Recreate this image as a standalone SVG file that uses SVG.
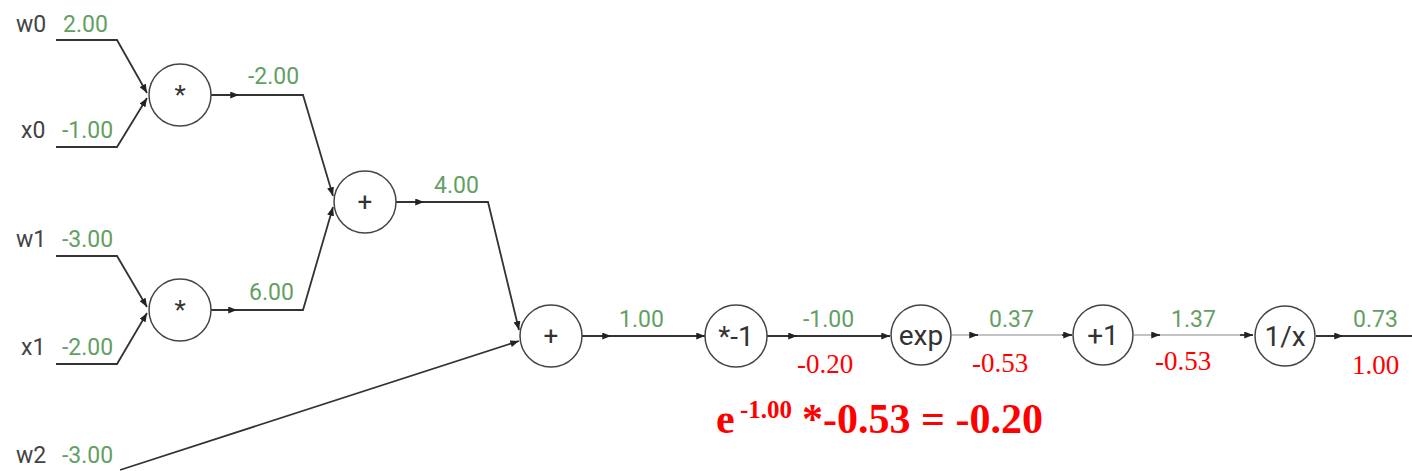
<svg xmlns="http://www.w3.org/2000/svg" width="1412" height="471" viewBox="0 0 1412 471">
<defs>
<marker id="arr" viewBox="0 0 10 8" refX="10" refY="4" markerWidth="9" markerHeight="7" markerUnits="userSpaceOnUse" orient="auto">
<path d="M0 0 L10 4 L0 8 Z" fill="#222"/>
</marker>
</defs>
<style>
.e{fill:none;stroke:#333;stroke-width:1.8}
.lt{stroke:#888;stroke-width:1.2}
.n circle{fill:#fff;stroke:#444;stroke-width:1.5}
.op{font-family:Roboto,"Liberation Sans",sans-serif;font-size:26px;fill:#333;text-anchor:middle}
.op2{font-size:28px}
.nm{font-family:Roboto,"Liberation Sans",sans-serif;font-size:23px;fill:#444}
.v{font-family:Roboto,"Liberation Sans",sans-serif;font-size:23px;fill:#639f63}
.g{font-family:"Liberation Serif","Times New Roman",serif;font-size:27px;fill:#ff0000}
.f{font-family:"Liberation Serif","Times New Roman",serif;font-weight:bold;fill:#ff0000}
</style>
<rect width="1412" height="471" fill="#fff"/>
<g id="connectors">
<path class="e" d="M56 40 H117 L147 93" marker-end="url(#arr)"/>
<path class="e" d="M56 147 H117 L147 98" marker-end="url(#arr)"/>
<path class="e" d="M211 95 H303 L333 196" marker-end="url(#arr)"/>
<path class="e" d="M228 95 H239" marker-end="url(#arr)"/>
<path class="e" d="M56 256 H117 L147 307" marker-end="url(#arr)"/>
<path class="e" d="M56 364 H117 L147 313" marker-end="url(#arr)"/>
<path class="e" d="M211 310 H303 L333 207" marker-end="url(#arr)"/>
<path class="e" d="M226 310 H237" marker-end="url(#arr)"/>
<path class="e" d="M396 202 H488 L519 330" marker-end="url(#arr)"/>
<path class="e" d="M412 202 H424" marker-end="url(#arr)"/>
<path class="e" d="M120 470 L519 341" marker-end="url(#arr)"/>
<path class="e" d="M582 336 H705" marker-end="url(#arr)"/>
<path class="e" d="M600 336 H611" marker-end="url(#arr)"/>
<path class="e" d="M767 336 H890" marker-end="url(#arr)"/>
<path class="e" d="M786 336 H797" marker-end="url(#arr)"/>
<path class="e lt" d="M952 335 H1072"/>
<path class="e" d="M1062 335 H1072" marker-end="url(#arr)"/>
<path class="e" d="M972 335 H978" marker-end="url(#arr)"/>
<path class="e lt" d="M1134 335 H1253"/>
<path class="e" d="M1240 335 H1253" marker-end="url(#arr)"/>
<path class="e" d="M1154 335 H1160" marker-end="url(#arr)"/>
<path class="e" d="M1316 336 H1412" style="stroke-width:2.2"/>
<path class="e" d="M1332 336 H1343" marker-end="url(#arr)"/>
</g>
<g id="inputs">
<text class="nm" x="16" y="32">w0</text><text class="v" x="63" y="32">2.00</text>
<text class="nm" x="21" y="138">x0</text><text class="v" x="62" y="138">-1.00</text>
<text class="nm" x="16" y="247">w1</text><text class="v" x="62" y="247">-3.00</text>
<text class="nm" x="21" y="355">x1</text><text class="v" x="62" y="355">-2.00</text>
<text class="nm" x="16" y="463">w2</text><text class="v" x="62" y="463">-3.00</text>
</g>
<g id="mul0" class="n"><circle cx="180" cy="95" r="31"/><text class="op" x="180" y="104">*</text></g>
<g id="mul1" class="n"><circle cx="180" cy="310" r="31"/><text class="op" x="180" y="319">*</text></g>
<g id="add0" class="n"><circle cx="365" cy="202" r="31"/><text class="op" x="365" y="211">+</text></g>
<g id="add1" class="n"><circle cx="551" cy="336" r="31"/><text class="op" x="551" y="345">+</text></g>
<g id="neg" class="n"><circle cx="736" cy="336" r="31"/><text class="op op2" x="736" y="346">*-1</text></g>
<g id="exp" class="n"><circle cx="921" cy="335" r="30"/><text class="op op2" x="921" y="345">exp</text></g>
<g id="plus1" class="n"><circle cx="1103" cy="335" r="30"/><text class="op op2" x="1103" y="345">+1</text></g>
<g id="inv" class="n"><circle cx="1285" cy="336" r="30"/><text class="op op2" x="1285" y="346">1/x</text></g>
<g id="values">
<text class="v" x="248" y="84">-2.00</text>
<text class="v" x="249" y="300">6.00</text>
<text class="v" x="434" y="193">4.00</text>
<text class="v" x="619" y="327">1.00</text>
<text class="v" x="803" y="327">-1.00</text>
<text class="v" x="989" y="327">0.37</text>
<text class="v" x="1171" y="327">1.37</text>
<text class="v" x="1353" y="327">0.73</text>
</g>
<g id="grads">
<text class="g" x="797" y="373">-0.20</text>
<text class="g" x="972" y="372">-0.53</text>
<text class="g" x="1155" y="370">-0.53</text>
<text class="g" x="1352" y="374">1.00</text>
</g>
<g id="formula">
<text class="f" x="716" y="433" font-size="42">e</text>
<text class="f" x="740" y="418" font-size="25">-1.00</text>
<text class="f" x="802" y="433" font-size="42">*-0.53 = -0.20</text>
</g>
</svg>
